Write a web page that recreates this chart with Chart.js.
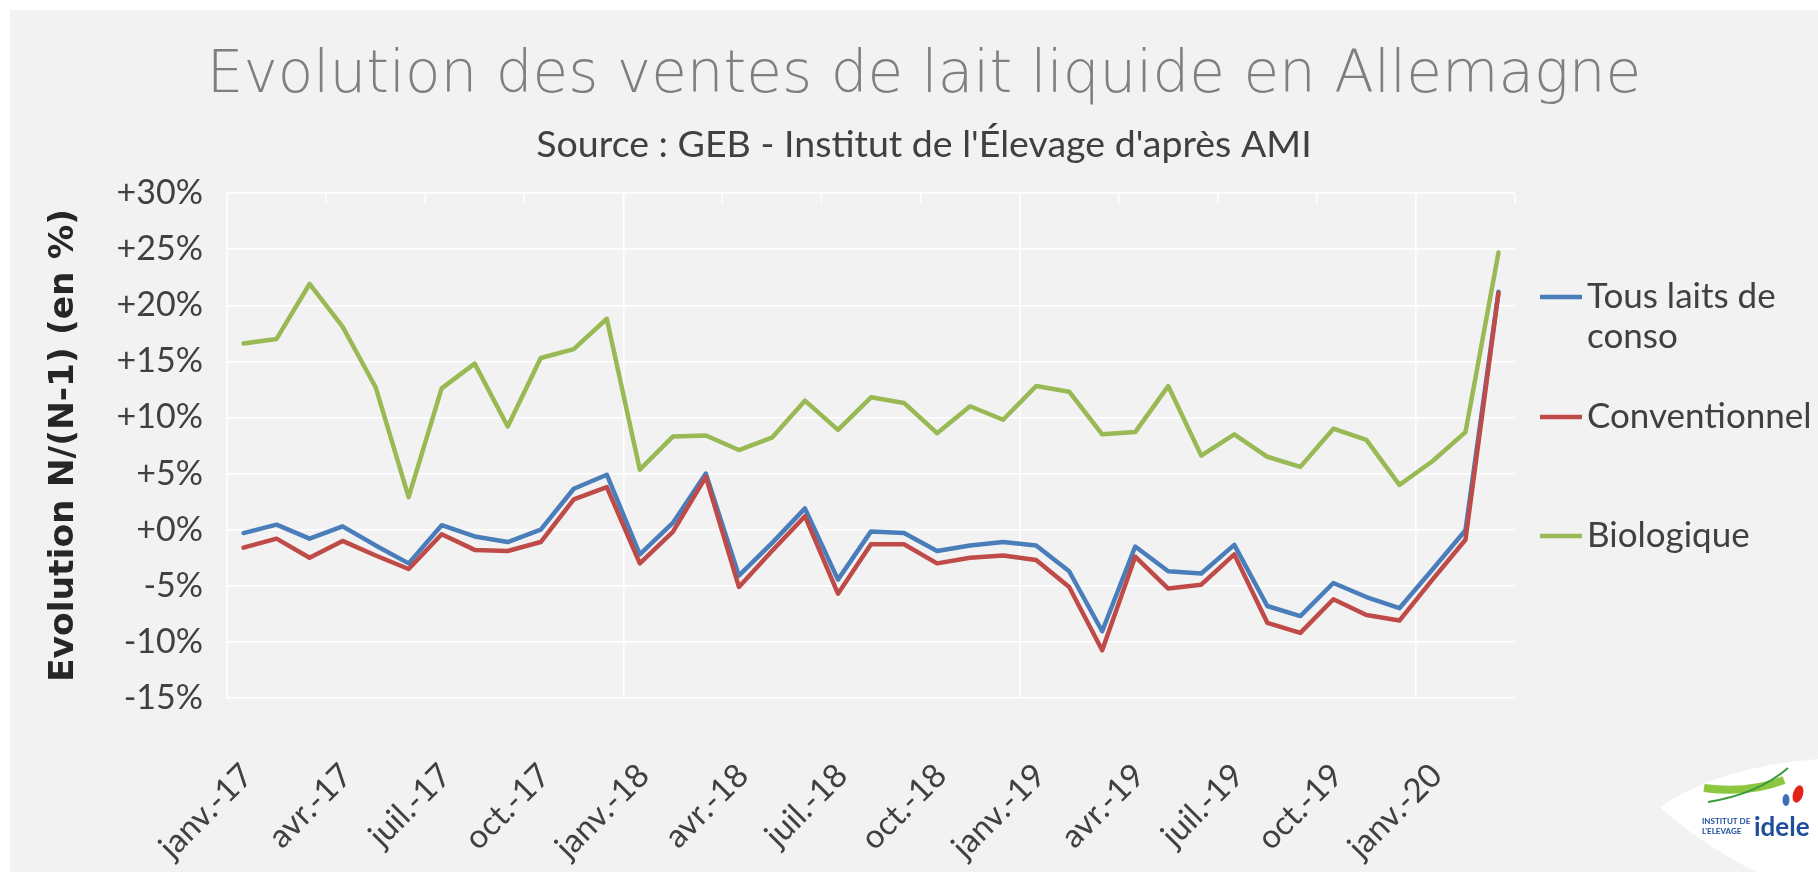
<!DOCTYPE html>
<html lang="fr">
<head>
<meta charset="utf-8">
<title>Evolution des ventes de lait liquide en Allemagne</title>
<script src="https://cdn.jsdelivr.net/npm/chart.js@4.4.1/dist/chart.umd.min.js"></script>
<style>
  html, body { margin: 0; padding: 0; background: #ffffff; }
  #cadre { width: 1818px; height: 872px; }
</style>
</head>
<body>
<div id="cadre"><canvas id="chartLait"></canvas></div>
<script>
// Mois (janv.-17 à mars-20)
const mois = [
    'janv.-17', 'févr.-17', 'mars-17', 'avr.-17', 'mai-17', 'juin-17',
    'juil.-17', 'août-17', 'sept.-17', 'oct.-17', 'nov.-17', 'déc.-17',
    'janv.-18', 'févr.-18', 'mars-18', 'avr.-18', 'mai-18', 'juin-18',
    'juil.-18', 'août-18', 'sept.-18', 'oct.-18', 'nov.-18', 'déc.-18',
    'janv.-19', 'févr.-19', 'mars-19', 'avr.-19', 'mai-19', 'juin-19',
    'juil.-19', 'août-19', 'sept.-19', 'oct.-19', 'nov.-19', 'déc.-19',
    'janv.-20', 'févr.-20', 'mars-20'
];

// Evolution N/(N-1) en %
const tousLaits = [
    -0.3, 0.45, -0.8, 0.3, -1.4, -3.0, 0.4, -0.6, -1.1, 0.0, 3.65, 4.9,
    -2.2, 0.6, 5.0, -4.1, -1.2, 1.9, -4.45, -0.15, -0.3, -1.9, -1.4, -1.1,
    -1.4, -3.7, -9.05, -1.5, -3.7, -3.9, -1.35, -6.8, -7.7, -4.75, -6.0, -7.0,
    -3.55, -0.05, 21.2
];
const conventionnel = [
    -1.6, -0.8, -2.5, -1.0, -2.3, -3.5, -0.4, -1.8, -1.9, -1.1, 2.7, 3.8,
    -3.0, -0.2, 4.7, -5.1, -1.9, 1.2, -5.7, -1.3, -1.3, -3.0, -2.5, -2.3,
    -2.7, -5.1, -10.75, -2.4, -5.25, -4.9, -2.2, -8.3, -9.2, -6.2, -7.6, -8.1,
    -4.45, -0.9, 21.1
];
const biologique = [
    16.6, 17.0, 21.9, 18.1, 12.7, 2.9, 12.6, 14.8, 9.2, 15.3, 16.1, 18.8,
    5.35, 8.3, 8.4, 7.1, 8.2, 11.5, 8.9, 11.8, 11.3, 8.6, 11.0, 9.8,
    12.8, 12.3, 8.5, 8.7, 12.8, 6.6, 8.5, 6.5, 5.6, 9.0, 8.0, 4.0,
    6.1, 8.7, 24.7
];

// Texte de la légende (la première entrée tient sur deux lignes)
const legendeLignes = [['Tous laits de', 'conso'], ['Conventionnel'], ['Biologique']];

const police = "'Lato', 'Open Sans', sans-serif";
const policeLarge = "'DejaVu Sans', 'Lato', sans-serif";
const fond = '#f2f2f2';

// Fond gris avec une fine marge blanche
const pluginFond = {
    id: 'fond',
    beforeDraw(chart) {
        const c = chart.ctx;
        c.save();
        c.fillStyle = '#ffffff';
        c.fillRect(0, 0, chart.width, chart.height);
        c.fillStyle = fond;
        c.fillRect(10, 10, chart.width - 10, chart.height - 10);
        c.restore();
    }
};

// Petites graduations en haut du graphique, tous les 3 mois
const pluginGraduations = {
    id: 'graduations',
    beforeDatasetsDraw(chart) {
        const x = chart.scales.x;
        const top = chart.chartArea.top;
        const c = chart.ctx;
        c.save();
        c.strokeStyle = '#ffffff';
        c.lineWidth = 1.5;
        for (let i = 0; i <= mois.length; i += 3) {
            const px = x.getPixelForValue(i - 0.5);
            c.beginPath();
            c.moveTo(px, top);
            c.lineTo(px, top + 10);
            c.stroke();
        }
        c.restore();
    }
};

// Légende à droite
const pluginLegende = {
    id: 'legendeDroite',
    afterDraw(chart) {
        const c = chart.ctx;
        const x0 = chart.chartArea.right + 25;
        const ys = [297, 417, 536];
        c.save();
        c.font = '35px ' + police;
        c.textBaseline = 'middle';
        c.fillStyle = '#404040';
        chart.data.datasets.forEach((ds, k) => {
            c.strokeStyle = ds.borderColor;
            c.lineWidth = 4.5;
            c.beginPath();
            c.moveTo(x0, ys[k]);
            c.lineTo(x0 + 42, ys[k]);
            c.stroke();
            legendeLignes[k].forEach((t, j) => {
                c.fillText(t, x0 + 47, ys[k] + j * 40);
            });
        });
        c.restore();
    }
};

// Logo de l'Institut de l'Élevage en bas à droite
const pluginLogo = {
    id: 'logo',
    afterDraw(chart) {
        const c = chart.ctx;
        const W = chart.width, H = chart.height;
        c.save();
        c.fillStyle = '#ffffff';
        c.beginPath();
        c.moveTo(W - 158, H - 65);
        c.quadraticCurveTo(W - 100, H - 105, W, H - 113);
        c.lineTo(W, H);
        c.lineTo(W - 62, H);
        c.quadraticCurveTo(W - 120, H - 30, W - 158, H - 65);
        c.fill();
        c.strokeStyle = '#8dc63f';
        c.lineWidth = 8;
        c.beginPath();
        c.moveTo(W - 114, H - 84);
        c.quadraticCurveTo(W - 70, H - 78, W - 34, H - 92);
        c.stroke();
        c.strokeStyle = '#3a9b3a';
        c.lineWidth = 2;
        c.beginPath();
        c.moveTo(W - 110, H - 70);
        c.quadraticCurveTo(W - 60, H - 78, W - 30, H - 104);
        c.stroke();
        c.fillStyle = '#e2231a';
        c.beginPath();
        c.ellipse(W - 20, H - 78, 5, 9, 0.3, 0, Math.PI * 2);
        c.fill();
        c.fillStyle = '#3b6fb6';
        c.beginPath();
        c.ellipse(W - 32, H - 72, 3.5, 6, 0, 0, Math.PI * 2);
        c.fill();
        c.fillStyle = '#1f4e9c';
        c.font = 'bold 26px ' + police;
        c.textBaseline = 'alphabetic';
        c.fillText('idele', W - 64, H - 36);
        c.font = 'bold 8px ' + police;
        c.fillText('INSTITUT DE', W - 116, H - 48);
        c.fillText("L'ELEVAGE", W - 116, H - 38);
        c.restore();
    }
};

const ctxLait = document.getElementById('chartLait').getContext('2d');
new Chart(ctxLait, {
    type: 'line',
    data: {
        labels: mois,
        datasets: [{
            label: 'Tous laits de conso',
            data: tousLaits,
            borderColor: '#4a7ebb',
            order: 3
        }, {
            label: 'Conventionnel',
            data: conventionnel,
            borderColor: '#be4b48',
            order: 2
        }, {
            label: 'Biologique',
            data: biologique,
            borderColor: '#98b954',
            order: 1
        }]
    },
    options: {
        responsive: true,
        maintainAspectRatio: false,
        animation: false,
        layout: { padding: { left: 30, top: 0, right: 0, bottom: 0 } },
        elements: {
            line: { borderWidth: 4.5, tension: 0, borderJoinStyle: 'round', borderCapStyle: 'round', fill: false },
            point: { radius: 0, hoverRadius: 0 }
        },
        plugins: {
            legend: { display: false },
            tooltip: { enabled: false },
            title: {
                display: true,
                text: 'Evolution des ventes de lait liquide en Allemagne',
                color: '#7f7f7f',
                font: { family: policeLarge, size: 58, weight: 200 },
                padding: { top: 42, bottom: 10 }
            },
            subtitle: {
                display: true,
                text: "Source : GEB - Institut de l'Élevage d'après AMI",
                color: '#404040',
                font: { family: police, size: 37.5 },
                padding: { top: 1, bottom: 25.5 }
            }
        },
        scales: {
            x: {
                offset: true,
                grid: {
                    offset: true,
                    drawTicks: false,
                    lineWidth: 1.5,
                    color: ctx => (ctx.index % 12 === 0 ? '#ffffff' : 'rgba(0,0,0,0)')
                },
                border: { display: false },
                ticks: {
                    autoSkip: false,
                    minRotation: 45,
                    maxRotation: 45,
                    padding: 58,
                    labelOffset: 4,
                    color: '#404040',
                    font: { family: police, size: 33 },
                    callback: function (v, i) {
                        return i % 3 === 0 ? this.getLabelForValue(v) : '';
                    }
                },
                afterFit: s => { s.height = 174; }
            },
            y: {
                min: -15,
                max: 30,
                grid: { color: '#ffffff', lineWidth: 1.5, drawTicks: false },
                border: { display: false },
                ticks: {
                    stepSize: 5,
                    padding: 24,
                    color: '#404040',
                    font: { family: police, size: 34 },
                    callback: v => (v >= 0 ? '+' : '') + v + '%'
                },
                title: {
                    display: true,
                    text: 'Evolution N/(N-1) (en %)',
                    color: '#262626',
                    font: { family: policeLarge, size: 34.5, weight: 'bold' },
                    padding: { top: 13, bottom: 0 }
                },
                afterFit: s => { s.width = 197; }
            },
            // espace réservé pour la légende à droite
            marge: {
                type: 'linear',
                position: 'right',
                grid: { display: false },
                border: { display: false },
                ticks: { display: false },
                afterFit: s => { s.width = 303; }
            }
        }
    },
    plugins: [pluginFond, pluginGraduations, pluginLegende, pluginLogo]
});
</script>
</body>
</html>
